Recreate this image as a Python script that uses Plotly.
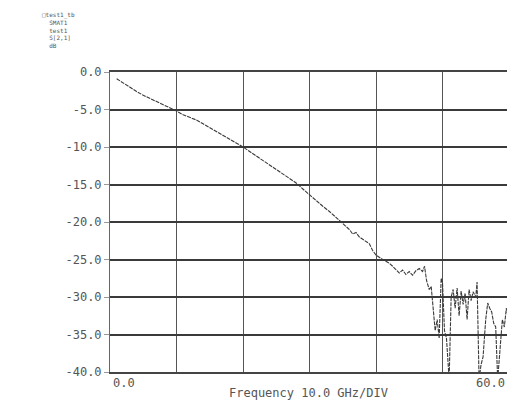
import plotly.graph_objects as go

# S[2,1] magnitude (dB) vs frequency (GHz)
freq_ghz = [1.0, 2, 3, 4, 5, 6, 7, 8, 9, 10, 11, 12, 13, 14, 15, 16, 17, 18, 19, 20,
            21, 22, 23, 24, 25, 26, 27, 28, 29, 30, 31, 32, 33, 34, 35, 36, 36.5, 37, 37.5, 38,
            38.5, 39, 39.5, 40, 41, 42, 42.5, 43, 43.5, 44, 44.5, 45, 45.5, 46, 46.5, 47,
            47.3, 47.6, 48, 48.3, 48.6, 48.9, 49.2, 49.5, 49.8, 50.0, 50.3, 50.6, 51.0,
            51.3, 51.6, 51.9, 52.2, 52.5, 52.8, 53.1, 53.4, 53.7, 54.0, 54.3, 54.6, 55.0,
            55.2, 55.5, 55.8, 56.1, 56.5, 56.8, 57.1, 57.4, 57.7, 58.0, 58.3, 58.7, 59.0,
            59.3, 59.6, 60.0]
s21_db = [-0.9, -1.5, -2.1, -2.6, -3.1, -3.5, -3.9, -4.3, -4.7, -5.2, -5.7, -6.0, -6.4, -6.9,
          -7.4, -7.9, -8.4, -9.0, -9.5, -10.0, -10.6, -11.2, -11.8, -12.4, -13.0, -13.6, -14.2,
          -14.8, -15.6, -16.4, -17.2, -17.9, -18.6, -19.4, -20.3, -21.0, -21.6, -21.4, -22.0,
          -22.3, -22.7, -22.9, -23.8, -24.4, -25.0, -25.5, -25.9, -26.3, -26.8, -26.4, -27.0,
          -26.6, -27.1, -26.5, -26.2, -26.6, -25.9, -27.8, -29.0, -28.6, -32.0, -34.5, -33.0,
          -35.5, -27.5, -28.0, -34.5, -35.5, -41.0, -30.0, -29.0, -31.5, -28.8, -32.5, -29.2,
          -31.0, -29.5, -33.0, -29.0, -30.5, -29.3, -30.0, -28.0, -41.0, -39.0, -38.0, -33.0,
          -30.8, -31.5, -32.0, -33.5, -34.0, -41.0, -36.0, -33.0, -34.0, -31.5, -33.0]

y_ticks = [0, -5, -10, -15, -20, -25, -30, -35, -40]
y_tick_labels = ["0.0", "-5.0", "-10.0", "-15.0", "-20.0", "-25.0", "-30.0", "-35.0", "-40.0"]
x_grid = [10, 20, 30, 40, 50]
x_start_label = "0.0"
x_stop_label = "60.0"
x_title = "Frequency 10.0 GHz/DIV"
legend_lines = ["\u25a1test1_tb", "  SMAT1", "  test1", "  S[2,1]", "  dB"]

MONO = "DejaVu Sans Mono, Liberation Mono, monospace"
TXT = "#555555"

fig = go.Figure()
fig.add_trace(go.Scatter(
    x=freq_ghz, y=s21_db, mode="lines",
    line=dict(color="#3a3a3a", width=1.1, dash="4px,1px"),
    showlegend=False, hoverinfo="skip",
))

fig.update_layout(
    width=507, height=401,
    margin=dict(l=110, r=0, t=72, b=29),
    paper_bgcolor="white", plot_bgcolor="white",
    font=dict(family=MONO, color=TXT, size=10),
    xaxis=dict(
        range=[0, 59.7], tickvals=x_grid, showticklabels=False,
        showgrid=True, gridcolor="#555555", gridwidth=1,
        showline=True, linecolor="#444444", linewidth=2, mirror=True,
        zeroline=False, ticks="",
    ),
    yaxis=dict(
        range=[-40, 0], tickvals=y_ticks, ticktext=y_tick_labels,
        showgrid=True, gridcolor="#3a3a3a", gridwidth=2,
        showline=True, linecolor="#666666", linewidth=1,
        zeroline=False, ticks="outside", ticklen=5, tickcolor="#999999",
        tickfont=dict(family=MONO, size=12, color=TXT),
    ),
    annotations=[
        dict(text=x_start_label, xref="paper", yref="paper", x=0, y=0,
             xanchor="left", yanchor="top", yshift=-2, xshift=1, showarrow=False,
             font=dict(family=MONO, size=12, color=TXT)),
        dict(text=x_stop_label, xref="paper", yref="paper", x=1, y=0,
             xanchor="right", yanchor="top", yshift=-2, showarrow=False,
             font=dict(family=MONO, size=12, color=TXT)),
        dict(text=x_title, xref="paper", yref="paper", x=0.5, y=0,
             xanchor="center", yanchor="top", yshift=-12, showarrow=False,
             font=dict(family=MONO, size=12, color=TXT)),
        dict(text="<br>".join(legend_lines), xref="paper", yref="paper",
             x=-0.176, y=1.0, xanchor="left", yanchor="bottom", yshift=21,
             align="left", showarrow=False,
             font=dict(family=MONO, size=6, color="#555555")),
    ],
)

fig.write_html(
    "out.html",
    config={"displayModeBar": False},
    post_script="document.body.style.margin='0';document.body.style.overflow='hidden';",
)
